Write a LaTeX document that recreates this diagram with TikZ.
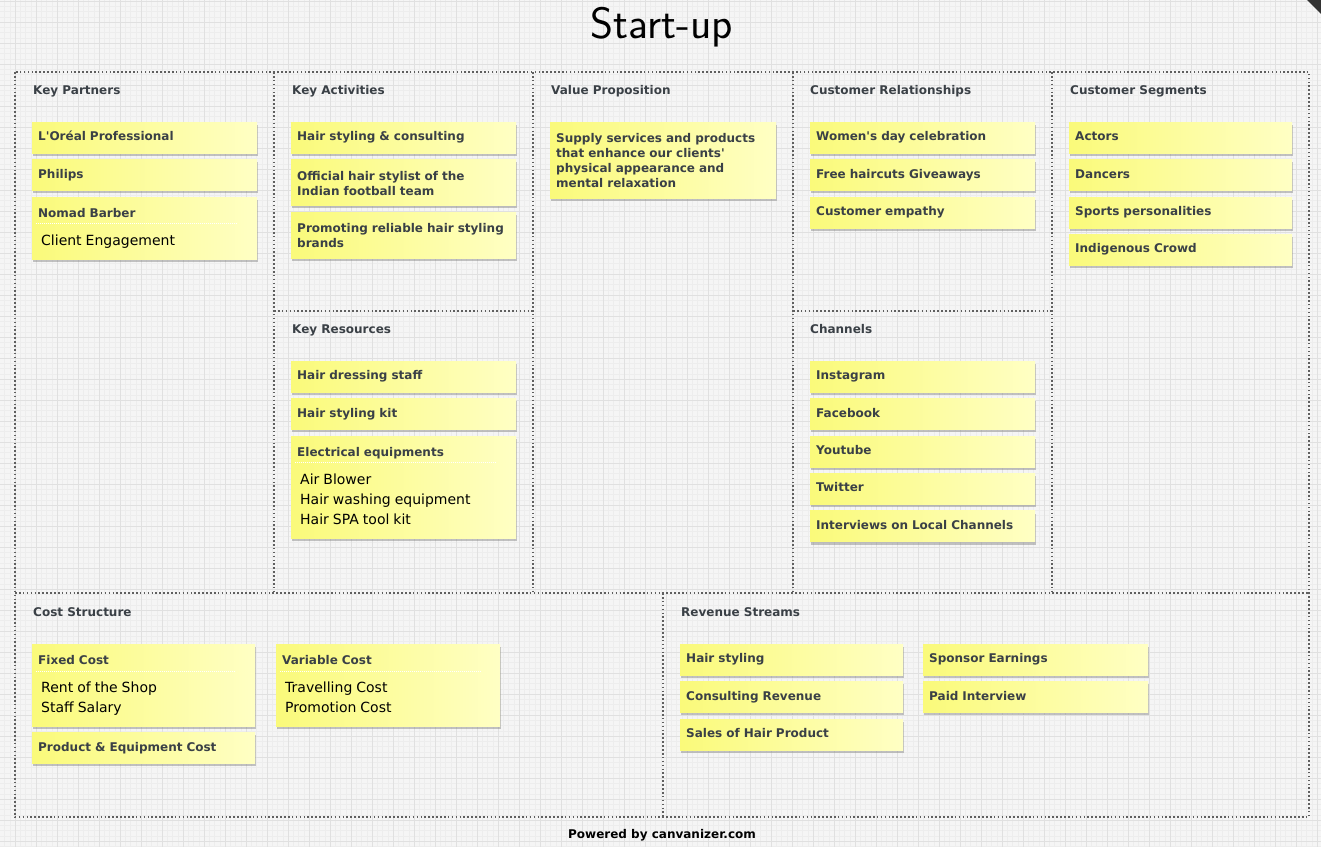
\documentclass[tikz,border=0pt]{standalone}
\usepackage{fontspec}
\setmainfont{DejaVu Sans}
\usetikzlibrary{positioning,shadows}
\definecolor{canvasbg}{RGB}{245,245,245}
\definecolor{gridmajor}{RGB}{224,224,224}
\definecolor{gridminor}{RGB}{237,237,237}
\definecolor{framegray}{RGB}{95,95,95}
\definecolor{inkgray}{RGB}{58,64,70}
\definecolor{noteL}{RGB}{250,250,122}
\definecolor{noteR}{RGB}{255,255,196}
\newcommand\notefont{\bfseries\fontsize{12}{15}\selectfont}
\newcommand\notebody[1]{\par\vspace{8pt}{\mdseries\color{black}\fontsize{14}{20}\selectfont\leftskip=3pt #1\rule[-4pt]{0pt}{1pt}\par}}

\begin{document}
\begin{tikzpicture}[x=1pt, y=-1pt,
    note/.style={rectangle, anchor=north west, left color=noteL, right color=noteR, drop shadow={shadow xshift=0.4pt, shadow yshift=-2.8pt, opacity=0.45}, text width=#1, inner xsep=6pt, inner ysep=4pt, minimum height=31pt, align=left, font=\notefont, text=inkgray, execute at begin node=\strut},
    note/.default=213pt,
    head/.style={anchor=base west, inner sep=0pt, font=\bfseries\fontsize{12}{14}\selectfont, text=inkgray},
    frame/.style={draw=framegray, line width=1.6pt, dash pattern=on 1.6pt off 2.3pt},
    sepline/.style={draw=white, line width=0.8pt, dash pattern=on 1pt off 1pt}
]

% Canvas and grid
\fill[canvasbg] (0,0) rectangle (1321,847);
\useasboundingbox (0,0) rectangle (1321,847);
\foreach \gx in {4.5,9.75,...,1321} \draw[gridminor, line width=0.4pt] (\gx,0) -- (\gx,847);
\foreach \gy in {1,6.25,...,847} \draw[gridminor, line width=0.4pt] (0,\gy) -- (1321,\gy);
\foreach \gx in {15,36,...,1321} \draw[gridmajor, line width=0.9pt] (\gx,0) -- (\gx,847);
\foreach \gy in {1,22,...,847} \draw[gridmajor, line width=0.9pt] (0,\gy) -- (1321,\gy);
\fill[black!80] (1307,0) -- (1321,0) -- (1321,14) -- cycle;

% Title
\node[font=\sffamily\fontsize{44}{46}\selectfont] (title) at (662,27) {Start-up};

% Canvas blocks
\draw[frame] (15,72) rectangle (1309,817);
\draw[frame] (274,72) -- (274,593) (533,72) -- (533,593) (793,72) -- (793,593) (1052,72) -- (1052,593);
\draw[frame] (15,593) -- (1309,593) (274,311) -- (533,311) (793,311) -- (1052,311) (663,593) -- (663,817);

% Block headings
\node[head] (partnersH) at (33,94) {Key Partners};
\node[head] (activitiesH) at (292,94) {Key Activities};
\node[head] (valueH) at (551,94) {Value Proposition};
\node[head] (relationsH) at (810,94) {Customer Relationships};
\node[head] (segmentsH) at (1070,94) {Customer Segments};
\node[head] (resourcesH) at (292,333) {Key Resources};
\node[head] (channelsH) at (810,333) {Channels};
\node[head] (costH) at (33,616) {Cost Structure};
\node[head] (revenueH) at (681,616) {Revenue Streams};

% Key Partners
\node[note] (loreal) at (32,122) {L\textquotesingle Oréal Professional};
\node[note, below=6pt of loreal] (philips) {Philips};
\node[note, below=6pt of philips, minimum height=62pt] (nomad) {Nomad Barber\notebody{Client Engagement}};
\draw[sepline] ([xshift=4pt,yshift=-27pt]nomad.north west) -- ([xshift=-20pt,yshift=-27pt]nomad.north east);

% Key Activities
\node[note] (styling) at (291,122) {Hair styling \& consulting};
\node[note, below=6pt of styling, minimum height=46pt] (official) {Official hair stylist of the\\Indian football team};
\node[note, below=6pt of official, minimum height=46pt] (brands) {Promoting reliable hair styling\\brands};

% Value Proposition
\node[note=214pt, minimum height=76pt] (value) at (550,122) {Supply services and products\\that enhance our clients\textquotesingle\\physical appearance and\\mental relaxation};

% Customer Relationships
\node[note] (womens) at (810,122) {Women\textquotesingle s day celebration};
\node[note, below=6pt of womens] (giveaways) {Free haircuts Giveaways};
\node[note, below=6pt of giveaways] (empathy) {Customer empathy};

% Customer Segments
\node[note=211pt] (actors) at (1069,122) {Actors};
\node[note=211pt, below=6pt of actors] (dancers) {Dancers};
\node[note=211pt, below=6pt of dancers] (sports) {Sports personalities};
\node[note=211pt, below=6pt of sports] (crowd) {Indigenous Crowd};

% Key Resources
\node[note] (staff) at (291,361) {Hair dressing staff};
\node[note, below=6pt of staff] (kit) {Hair styling kit};
\node[note, below=6pt of kit, minimum height=102pt] (electrical) {Electrical equipments\notebody{Air Blower\\Hair washing equipment\\Hair SPA tool kit}};
\draw[sepline] ([xshift=4pt,yshift=-27pt]electrical.north west) -- ([xshift=-20pt,yshift=-27pt]electrical.north east);

% Channels
\node[note] (instagram) at (810,361) {Instagram};
\node[note, below=6pt of instagram] (facebook) {Facebook};
\node[note, below=6pt of facebook] (youtube) {Youtube};
\node[note, below=6pt of youtube] (twitter) {Twitter};
\node[note, below=6pt of twitter] (interviews) {Interviews on Local Channels};

% Cost Structure
\node[note=211pt, minimum height=82pt] (fixed) at (32,644) {Fixed Cost\notebody{Rent of the Shop\\Staff Salary}};
\draw[sepline] ([xshift=4pt,yshift=-27pt]fixed.north west) -- ([xshift=-20pt,yshift=-27pt]fixed.north east);
\node[note=211pt, below=6pt of fixed] (product) {Product \& Equipment Cost};
\node[note=212pt, minimum height=82pt] (variable) at (276,644) {Variable Cost\notebody{Travelling Cost\\Promotion Cost}};
\draw[sepline] ([xshift=4pt,yshift=-27pt]variable.north west) -- ([xshift=-20pt,yshift=-27pt]variable.north east);

% Revenue Streams
\node[note=211pt] (hairrev) at (680,644) {Hair styling};
\node[note=211pt, below=6pt of hairrev] (consulting) {Consulting Revenue};
\node[note=211pt, below=6pt of consulting] (sales) {Sales of Hair Product};
\node[note] (sponsor) at (923,644) {Sponsor Earnings};
\node[note, below=6pt of sponsor] (paid) {Paid Interview};

% Footer
\node[font=\bfseries\fontsize{12}{14}\selectfont] (footer) at (662,835) {Powered by canvanizer.com};

\end{tikzpicture}
\end{document}
